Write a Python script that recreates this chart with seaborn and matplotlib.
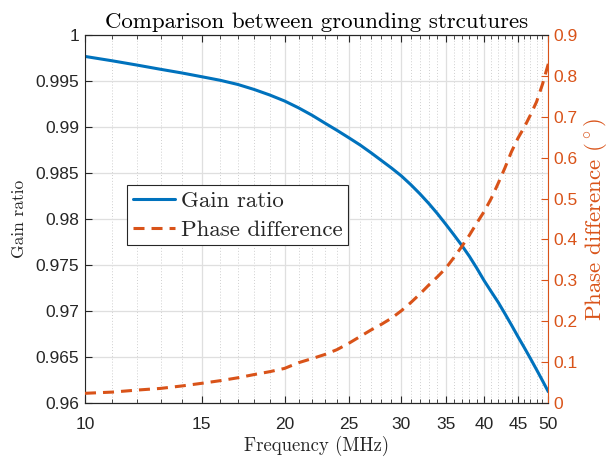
import numpy as np
import pandas as pd
import matplotlib
matplotlib.use("Agg")
import matplotlib.pyplot as plt
import matplotlib.ticker as mticker
import seaborn as sns

# ---------------- data ----------------
freq_mhz = [10, 11, 12, 13, 14, 15, 16, 17, 18, 19, 20, 21, 22, 23, 24, 25, 26, 27, 28, 29,
            30, 31, 32, 33, 34, 35, 36, 37, 38, 39, 40, 41, 42, 43, 44, 45, 46, 47, 48, 49, 50]
gain_ratio = [0.99770, 0.99722, 0.99675, 0.99630, 0.99590, 0.99549, 0.99510, 0.99465, 0.99410,
              0.99350, 0.99285, 0.99210, 0.99130, 0.99045, 0.98965, 0.98885, 0.98806, 0.98722,
              0.98637, 0.98555, 0.98470, 0.98375, 0.98275, 0.98170, 0.98060, 0.97945, 0.97830,
              0.97715, 0.97595, 0.97465, 0.97330, 0.97210, 0.97095, 0.96970, 0.96845, 0.96719,
              0.96600, 0.96480, 0.96360, 0.96240, 0.96120]
phase_diff = [0.023, 0.026, 0.031, 0.035, 0.041, 0.0475, 0.054, 0.061, 0.069, 0.076, 0.084,
              0.098, 0.108, 0.118, 0.130, 0.1455, 0.162, 0.178, 0.192, 0.207, 0.225, 0.245,
              0.266, 0.288, 0.308, 0.329, 0.355, 0.382, 0.410, 0.440, 0.468, 0.500, 0.537,
              0.575, 0.615, 0.648, 0.675, 0.705, 0.737, 0.780, 0.830]
x_ticks = [10, 15, 20, 25, 30, 35, 40, 45, 50]
x_tick_labels = ["10", "15", "20", "25", "30", "35", "40", "45", "50"]
left_ticks = [0.96, 0.965, 0.97, 0.975, 0.98, 0.985, 0.99, 0.995, 1.0]
left_tick_labels = ["0.96", "0.965", "0.97", "0.975", "0.98", "0.985", "0.99", "0.995", "1"]
right_ticks = [0, 0.1, 0.2, 0.3, 0.4, 0.5, 0.6, 0.7, 0.8, 0.9]
right_tick_labels = ["0", "0.1", "0.2", "0.3", "0.4", "0.5", "0.6", "0.7", "0.8", "0.9"]

df = pd.DataFrame({"freq": freq_mhz, "gain": gain_ratio, "phase": phase_diff})

# ---------------- style ----------------
sns.set_theme(style="white")
plt.rcParams["font.family"] = ["Liberation Sans", "DejaVu Sans"]
plt.rcParams["mathtext.fontset"] = "cm"

BLUE = "#0072BD"
ORANGE = "#D95319"
AXC = "#262626"
SERIF = "cmr10"

fig = plt.figure(figsize=(6.09, 4.57), dpi=100)
ax = fig.add_axes([85 / 609, 1 - 402.7 / 457, 463.3 / 609, 367.4 / 457])
ax2 = ax.twinx()

sns.lineplot(data=df, x="freq", y="gain", ax=ax, color=BLUE, linewidth=2.2,
             label="Gain ratio", legend=False)
sns.lineplot(data=df, x="freq", y="phase", ax=ax2, color=ORANGE, linewidth=2.2,
             linestyle=(0, (3.6, 2.3)), label="Phase difference", legend=False)

ax.set_xscale("log")
ax.set_xlim(10, 50)
ax.set_ylim(0.96, 1.0)
ax2.set_ylim(0, 0.9)

ax.xaxis.set_major_locator(mticker.FixedLocator(x_ticks))
ax.xaxis.set_major_formatter(mticker.FixedFormatter(x_tick_labels))
minor = [v for v in range(11, 50) if v not in x_ticks]
ax.xaxis.set_minor_locator(mticker.FixedLocator(minor))
ax.xaxis.set_minor_formatter(mticker.NullFormatter())

ax.set_yticks(left_ticks)
ax.set_yticklabels(left_tick_labels)
ax2.set_yticks(right_ticks)
ax2.set_yticklabels(right_tick_labels)

# grid
ax.grid(True, which="major", axis="both", color="#DFDFDF", linewidth=0.9)
ax.grid(True, which="minor", axis="x", color="#CFCFCF", linewidth=0.7, linestyle=(0, (1, 2)))
ax.set_axisbelow(True)

# ticks
ax.tick_params(axis="x", which="both", direction="in", top=True, bottom=True,
               colors=AXC, labelsize=12.5, pad=10)
ax.tick_params(axis="x", which="major", length=5, width=0.8)
ax.tick_params(axis="x", which="minor", length=3, width=0.6)
ax.tick_params(axis="y", which="major", direction="in", left=True, right=False,
               length=5, width=0.8, colors=AXC, labelsize=12.5, pad=4)
ax2.tick_params(axis="y", which="major", direction="in", right=True, left=False,
                length=5, width=0.8, colors=ORANGE, labelsize=12.5, pad=4)

for side in ["left", "top", "bottom"]:
    ax.spines[side].set_color(AXC)
    ax.spines[side].set_linewidth(0.8)
    ax2.spines[side].set_color(AXC)
    ax2.spines[side].set_linewidth(0.8)
ax.spines["right"].set_visible(False)
ax2.spines["right"].set_color(ORANGE)
ax2.spines["right"].set_linewidth(0.8)
ax2.spines["left"].set_visible(False)

# labels
ax.set_title("Comparison between grounding strcutures", fontfamily=SERIF, fontsize=16.5,
             color="black", pad=5)
ax.set_xlabel("Frequency (MHz)", fontfamily=SERIF, fontsize=13.5, color=AXC, labelpad=3)
ax.set_ylabel("Gain ratio", fontfamily=SERIF, fontsize=12.5, color=AXC, labelpad=6)
ax2.set_ylabel(r"Phase difference $(^\circ)$", fontfamily=SERIF, fontsize=16.5,
               color=ORANGE, labelpad=3)

# legend
h1, lab1 = ax.get_legend_handles_labels()
h2, lab2 = ax2.get_legend_handles_labels()
leg = ax2.legend(h1 + h2, lab1 + lab2, loc="upper left",
                 bbox_to_anchor=(0.0906, 0.5925), frameon=True, fancybox=False,
                 prop={"family": SERIF, "size": 16.5}, handlelength=1.85,
                 handletextpad=0.25, borderpad=0.25, labelspacing=0.38,
                 borderaxespad=0)
leg.get_frame().set_edgecolor(AXC)
leg.get_frame().set_linewidth(0.8)
leg.get_frame().set_facecolor("white")
leg.get_frame().set_alpha(1)

fig.savefig("out.png", dpi=100)
